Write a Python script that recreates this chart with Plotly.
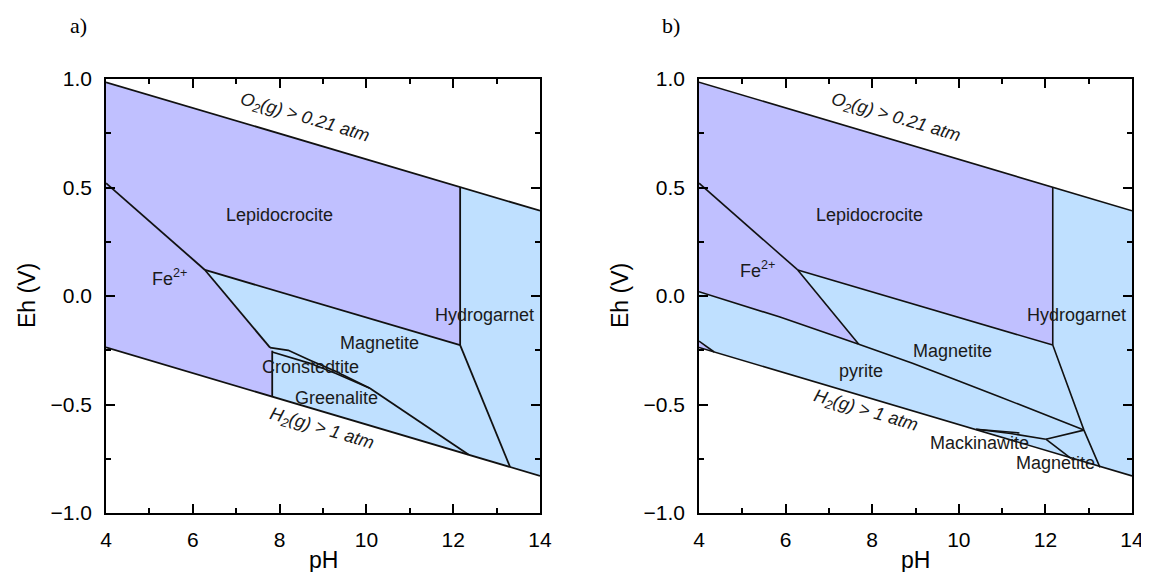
import plotly.graph_objects as go

# ---------------- data (pH, Eh in V) ----------------
# water stability limits (same in both panels)
o2_ph = [4.0, 14.0]
o2_eh = [0.985, 0.393]
h2_ph = [4.0, 14.0]
h2_eh = [-0.237, -0.829]

# ---- panel a ----
a_lep_ph = [4.0, 12.16, 12.16, 6.28, 4.0]
a_lep_eh = [0.985, 0.502, -0.226, 0.12, 0.52]
a_fe_ph = [4.0, 6.28, 7.78, 7.83, 7.83, 4.0]
a_fe_eh = [0.52, 0.12, -0.238, -0.255, -0.463, -0.237]

a_lepfe_ph = [4.0, 6.28];            a_lepfe_eh = [0.52, 0.12]
a_lepmag_ph = [6.28, 12.16];         a_lepmag_eh = [0.12, -0.226]
a_lephyd_ph = [12.16, 12.16];        a_lephyd_eh = [0.502, -0.226]
a_femag_ph = [6.28, 7.78];           a_femag_eh = [0.12, -0.238]
a_fegrn_ph = [7.83, 7.83];           a_fegrn_eh = [-0.252, -0.463]
a_crtop_ph = [7.78, 8.2, 8.7, 9.3, 10.08]
a_crtop_eh = [-0.238, -0.25, -0.296, -0.348, -0.425]
a_crbot_ph = [7.83, 8.7, 9.3, 10.08]
a_crbot_eh = [-0.258, -0.31, -0.357, -0.425]
a_grnmag_ph = [10.08, 12.35];        a_grnmag_eh = [-0.425, -0.73]
a_hydmag_ph = [12.16, 13.31];        a_hydmag_eh = [-0.226, -0.788]

# ---- panel b ----
b_lep_ph = [4.0, 12.17, 12.17, 6.28, 4.0]
b_lep_eh = [0.985, 0.502, -0.226, 0.12, 0.52]
b_fe_ph = [4.0, 6.28, 7.69, 5.87, 4.0]
b_fe_eh = [0.52, 0.12, -0.222, -0.097, 0.02]
b_fesl_ph = [4.0, 4.35, 4.0]
b_fesl_eh = [-0.208, -0.258, -0.237]

b_lepfe_ph = [4.0, 6.28];            b_lepfe_eh = [0.52, 0.12]
b_lepmag_ph = [6.28, 12.17];         b_lepmag_eh = [0.12, -0.226]
b_lephyd_ph = [12.17, 12.17];        b_lephyd_eh = [0.502, -0.226]
b_femag_ph = [6.28, 7.69];           b_femag_eh = [0.12, -0.222]
b_fepyr_ph = [4.0, 5.87, 7.69];      b_fepyr_eh = [0.02, -0.097, -0.222]
b_pyrmag_ph = [7.69, 8.93, 9.94, 10.94, 12.89]
b_pyrmag_eh = [-0.222, -0.31, -0.387, -0.464, -0.618]
b_hyd_ph = [12.17, 12.89, 13.26];    b_hyd_eh = [-0.226, -0.618, -0.79]
b_pyrlow_ph = [4.0, 4.35];           b_pyrlow_eh = [-0.208, -0.258]
b_mack_ph = [10.4, 11.2, 12.01];     b_mack_eh = [-0.614, -0.634, -0.66]
b_mack2_ph = [10.4, 11.4];           b_mack2_eh = [-0.614, -0.631]
b_mag2_ph = [12.01, 12.89];          b_mag2_eh = [-0.66, -0.618]
b_mackmag_ph = [12.01, 12.59];       b_mackmag_eh = [-0.66, -0.748]

# labels: (text, pH, Eh)
a_lbl_text = ["Lepidocrocite", "Fe<sup>2+</sup>", "Magnetite", "Hydrogarnet",
              "Cronstedtite", "Greenalite"]
a_lbl_ph = [8.0, 5.47, 10.31, 12.73, 8.72, 9.31]
a_lbl_eh = [0.373, 0.083, -0.218, -0.088, -0.327, -0.471]
b_lbl_text = ["Lepidocrocite", "Fe<sup>2+</sup>", "Hydrogarnet", "Magnetite",
              "pyrite", "Mackinawite", "Magnetite"]
b_lbl_ph = [7.94, 5.34, 12.72, 9.86, 7.75, 10.47, 12.24]
b_lbl_eh = [0.373, 0.12, -0.088, -0.252, -0.346, -0.679, -0.771]
gas_text = ["<i>O<sub>2</sub>(g) &gt; 0.21 atm</i>", "<i>H<sub>2</sub>(g) &gt; 1 atm</i>"]
a_gas_ph = [8.59, 8.98]; a_gas_eh = [0.82, -0.613]
b_gas_ph = [8.56, 7.85]; b_gas_eh = [0.82, -0.53]

# ---------------- styling ----------------
PURPLE = "#c0c0ff"
BLUE = "#bfe0ff"
LINE = "#111111"
FONT = "Arial, Liberation Sans, sans-serif"
W, H = 1141, 564   # kept inside the 1149x580 window (page body margin = 8 px)
OFF = 8


def px_x(p):
    return (p - OFF) / W


def px_y(p):
    return 1 - (p - OFF) / H


fig = go.Figure()


def poly(ph, eh, color, xa, ya):
    fig.add_trace(go.Scatter(x=ph, y=eh, fill="toself", fillcolor=color, mode="lines",
                             line=dict(width=0, color=color), hoverinfo="skip",
                             showlegend=False, xaxis=xa, yaxis=ya))


def line(ph, eh, xa, ya, w=1.8):
    fig.add_trace(go.Scatter(x=ph, y=eh, mode="lines", line=dict(color=LINE, width=w),
                             hoverinfo="skip", showlegend=False, xaxis=xa, yaxis=ya))


for xa, ya in (("x", "y"), ("x2", "y2")):
    poly(o2_ph + h2_ph[::-1], o2_eh + h2_eh[::-1], BLUE, xa, ya)

poly(a_lep_ph, a_lep_eh, PURPLE, "x", "y")
poly(a_fe_ph, a_fe_eh, PURPLE, "x", "y")
poly(b_lep_ph, b_lep_eh, PURPLE, "x2", "y2")
poly(b_fe_ph, b_fe_eh, PURPLE, "x2", "y2")
poly(b_fesl_ph, b_fesl_eh, PURPLE, "x2", "y2")

for ph, eh in [(o2_ph, o2_eh), (h2_ph, h2_eh), (a_lepfe_ph, a_lepfe_eh),
               (a_lepmag_ph, a_lepmag_eh), (a_lephyd_ph, a_lephyd_eh),
               (a_femag_ph, a_femag_eh), (a_fegrn_ph, a_fegrn_eh),
               (a_crtop_ph, a_crtop_eh), (a_crbot_ph, a_crbot_eh),
               (a_grnmag_ph, a_grnmag_eh), (a_hydmag_ph, a_hydmag_eh)]:
    line(ph, eh, "x", "y")

for ph, eh in [(o2_ph, o2_eh), (h2_ph, h2_eh), (b_lepfe_ph, b_lepfe_eh),
               (b_lepmag_ph, b_lepmag_eh), (b_lephyd_ph, b_lephyd_eh),
               (b_femag_ph, b_femag_eh), (b_fepyr_ph, b_fepyr_eh),
               (b_pyrmag_ph, b_pyrmag_eh), (b_hyd_ph, b_hyd_eh),
               (b_pyrlow_ph, b_pyrlow_eh), (b_mack_ph, b_mack_eh),
               (b_mack2_ph, b_mack2_eh), (b_mag2_ph, b_mag2_eh),
               (b_mackmag_ph, b_mackmag_eh)]:
    line(ph, eh, "x2", "y2", 1.6)

ann = []
lblfont = dict(size=18, family=FONT, color="#1a1a1a")
for t, px, py in zip(a_lbl_text, a_lbl_ph, a_lbl_eh):
    ann.append(dict(text=t, x=px, y=py, xref="x", yref="y", showarrow=False, font=lblfont,
                    xanchor="center", yanchor="middle"))
for t, px, py in zip(b_lbl_text, b_lbl_ph, b_lbl_eh):
    ann.append(dict(text=t, x=px, y=py, xref="x2", yref="y2", showarrow=False, font=lblfont,
                    xanchor="center", yanchor="middle"))
for t, px, py in zip(gas_text, a_gas_ph, a_gas_eh):
    ann.append(dict(text=t, x=px, y=py, xref="x", yref="y", showarrow=False, textangle=16.5,
                    font=lblfont, xanchor="center", yanchor="middle"))
for t, px, py in zip(gas_text, b_gas_ph, b_gas_eh):
    ann.append(dict(text=t, x=px, y=py, xref="x2", yref="y2", showarrow=False, textangle=16.5,
                    font=lblfont, xanchor="center", yanchor="middle"))

for t, x in (("a)", 78), ("b)", 671)):
    ann.append(dict(text=t, x=px_x(x), y=px_y(25), xref="paper", yref="paper", showarrow=False,
                    xanchor="center", yanchor="middle",
                    font=dict(size=22, family="Liberation Serif, Times New Roman, serif", color="black")))
for x in (323, 915):
    ann.append(dict(text="pH", x=px_x(x), y=px_y(560), xref="paper", yref="paper", showarrow=False,
                    xanchor="center", yanchor="middle",
                    font=dict(size=23, family=FONT, color="black")))
for x in (27, 620):
    ann.append(dict(text="Eh (V)", x=px_x(x), y=px_y(296), xref="paper", yref="paper", showarrow=False,
                    xanchor="center", yanchor="middle", textangle=-90,
                    font=dict(size=23, family=FONT, color="black")))

xa_common = dict(range=[4, 14], tick0=4, dtick=2, ticks="inside", ticklen=9, tickwidth=1.5,
                 tickcolor="black", showline=True, linecolor="black", linewidth=1.5,
                 mirror="allticks", showgrid=False, zeroline=False, automargin=False,
                 ticklabelstandoff=7,
                 tickfont=dict(size=21, family=FONT, color="black"),
                 minor=dict(dtick=1, ticks="inside", ticklen=5, tickwidth=1.5, tickcolor="black",
                            showgrid=False))
ya_common = dict(range=[-1, 1], tick0=-1, dtick=0.5, tickformat=".1f", ticks="inside", ticklen=9,
                 tickwidth=1.5, tickcolor="black", showline=True, linecolor="black", linewidth=1.5,
                 mirror="allticks", showgrid=False, zeroline=False, automargin=False,
                 ticklabelstandoff=8,
                 tickfont=dict(size=21, family=FONT, color="black"),
                 minor=dict(dtick=0.25, ticks="inside", ticklen=5, tickwidth=1.5, tickcolor="black",
                            showgrid=False))

ydom = [px_y(513), px_y(79)]
fig.update_layout(
    width=W, height=H, margin=dict(l=0, r=0, t=0, b=0, pad=0, autoexpand=False),
    paper_bgcolor="white", plot_bgcolor="white", showlegend=False,
    xaxis=dict(domain=[px_x(106), px_x(540)], anchor="y", **xa_common),
    yaxis=dict(domain=ydom, anchor="x", **ya_common),
    xaxis2=dict(domain=[px_x(699), px_x(1132)], anchor="y2", **xa_common),
    yaxis2=dict(domain=ydom, anchor="x2", **ya_common),
    annotations=ann,
)

fig.write_html("out.html")
